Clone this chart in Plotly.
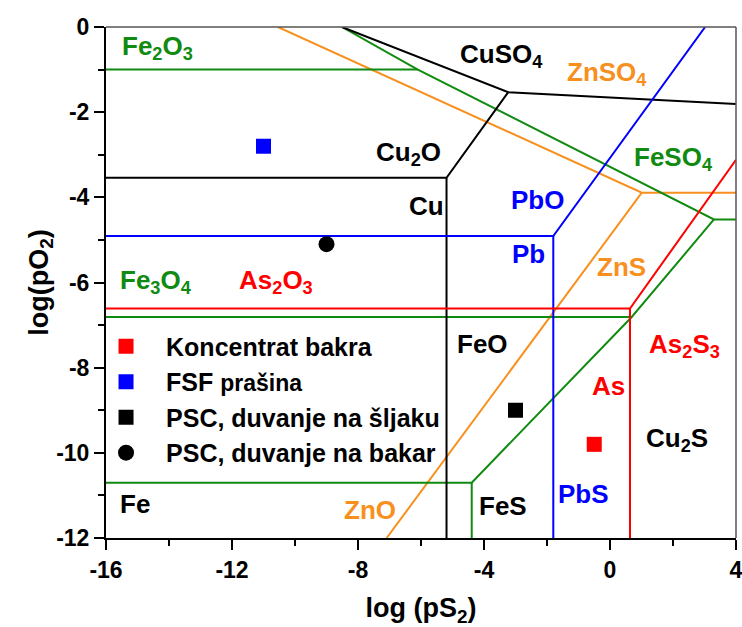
import plotly.graph_objects as go

# ---------------- data ----------------
# Boundary polylines: log(pS2) (x) and log(pO2) (y); None separates segments
cu_x = [-8.51, -3.23, 4.0, None, -3.23, -5.19, -16.0, None, -5.19, -5.19]
cu_y = [0.0, -1.53, -1.81, None, -1.53, -3.54, -3.54, None, -3.54, -12.0]

pb_x = [-16.0, -1.80, 3.02, None, -1.80, -1.80]
pb_y = [-4.91, -4.91, 0.0, None, -4.91, -12.0]

as_x = [-16.0, 0.635, 4.0, None, 0.635, 0.635]
as_y = [-6.61, -6.61, -3.12, None, -6.61, -12.0]

fe_x = [-16.0, -6.1, None, -8.51, -6.1, 3.30, 4.0, None,
        -16.0, 0.69, 3.30, None, 0.69, -4.39, -16.0, None, -4.39, -4.39]
fe_y = [-1.0, -1.0, None, 0.0, -1.0, -4.52, -4.52, None,
        -6.81, -6.81, -4.52, None, -6.81, -10.70, -10.70, None, -10.70, -12.0]

zn_x = [-10.54, 1.01, 4.0, None, 1.01, -7.09]
zn_y = [0.0, -3.89, -3.89, None, -3.89, -12.0]

# Sample points
sample_names = ["Koncentrat bakra",
                "FSF <span style='font-size:23px'>prašina</span>",
                "PSC, duvanje na šljaku",
                "PSC, duvanje na bakar"]
sample_x = [-0.5, -11.0, -3.0, -9.0]
sample_y = [-9.8, -2.8, -9.0, -5.1]
sample_colors = ["#ff0000", "#0000ff", "#000000", "#000000"]
sample_symbols = ["square", "square", "square", "circle"]

# Region labels
label_text = ["Fe<sub>2</sub>O<sub>3</sub>", "CuSO<sub>4</sub>", "ZnSO<sub>4</sub>",
              "Cu<sub>2</sub>O", "FeSO<sub>4</sub>", "Cu", "PbO", "Pb", "ZnS",
              "Fe<sub>3</sub>O<sub>4</sub>", "As<sub>2</sub>O<sub>3</sub>", "FeO",
              "As<sub>2</sub>S<sub>3</sub>", "As", "Cu<sub>2</sub>S", "PbS",
              "FeS", "ZnO", "Fe"]
label_x = [-14.38, -3.43, -0.10, -6.41, 2.0, -5.84, -2.29, -2.60, 0.35,
           -14.42, -10.6, -4.06, 2.38, -0.06, 2.13, -0.83, -3.40, -7.62, -15.08]
label_y = [-0.49, -0.66, -1.09, -2.97, -3.08, -4.21, -4.07, -5.33, -5.64,
           -5.97, -5.97, -7.45, -7.47, -8.44, -9.68, -10.97, -11.25, -11.34, -11.2]
label_group = ["fe", "cu", "zn", "cu", "fe", "cu", "pb", "pb", "zn",
               "fe", "as", "cu", "as", "as", "cu", "pb", "cu", "zn", "cu"]

x_ticks = [-16, -12, -8, -4, 0, 4]
x_ticktext = ["-16", "-12", "-8", "-4", "0", "4"]
y_ticks = [0, -2, -4, -6, -8, -10, -12]
y_ticktext = ["0", "-2", "-4", "-6", "-8", "-10", "-12"]

# ---------------- styling ----------------
COL = {"cu": "#000000", "pb": "#0000ff", "as": "#ff0000",
       "fe": "#108a10", "zn": "#f7901e"}
FONT = "Liberation Sans, Arial, sans-serif"

fig = go.Figure()

for key, xs, ys in [("zn", zn_x, zn_y), ("fe", fe_x, fe_y), ("cu", cu_x, cu_y),
                    ("pb", pb_x, pb_y), ("as", as_x, as_y)]:
    fig.add_trace(go.Scatter(x=xs, y=ys, mode="lines",
                             line=dict(color=COL[key], width=2),
                             showlegend=False, hoverinfo="skip"))

for i, name in enumerate(sample_names):
    fig.add_trace(go.Scatter(
        x=[sample_x[i]], y=[sample_y[i]], mode="markers", name=name,
        legendgroup=f"g{i}",
        marker=dict(color=sample_colors[i], symbol=sample_symbols[i],
                    size=15 if sample_symbols[i] == "square" else 16,
                    line=dict(width=0))))

for t, x, y, g in zip(label_text, label_x, label_y, label_group):
    fig.add_annotation(x=x, y=y, text=t, showarrow=False,
                       font=dict(family=FONT, size=26, color=COL[g], weight="bold"),
                       xanchor="center", yanchor="middle")

axis_common = dict(showgrid=False, zeroline=False, showline=True,
                   linecolor="black", linewidth=2, mirror=False,
                   ticks="outside", ticklen=10, tickwidth=2, tickcolor="black",
                   ticklabeloverflow="allow", automargin=False,
                   tickfont=dict(family=FONT, size=23, color="black", weight="bold"))

fig.update_xaxes(range=[-16, 4], tickvals=x_ticks, ticktext=x_ticktext,
                 minor=dict(dtick=2, ticks="outside", ticklen=6, tickwidth=2,
                            tickcolor="black", showgrid=False),
                 title=dict(text="log (pS<sub>2</sub>)", standoff=30,
                            font=dict(family=FONT, size=27, color="black", weight="bold")),
                 **axis_common)
fig.update_yaxes(range=[-12, 0], tickvals=y_ticks, ticktext=y_ticktext,
                 minor=dict(dtick=1, ticks="outside", ticklen=6, tickwidth=2,
                            tickcolor="black", showgrid=False),
                 title=dict(text="log(pO<sub>2</sub>)", standoff=0,
                            font=dict(family=FONT, size=27, color="black", weight="bold")),
                 **axis_common)

# top/right frame
fig.add_shape(type="line", xref="paper", yref="paper", x0=0, x1=1, y0=1, y1=1,
              line=dict(color="#555555", width=1.5))
fig.add_shape(type="line", xref="paper", yref="paper", x0=1, x1=1, y0=0, y1=1,
              line=dict(color="#555555", width=1.5))

fig.update_layout(
    width=742, height=627,
    margin=dict(l=106, r=6, t=27, b=89),
    plot_bgcolor="white", paper_bgcolor="white",
    font=dict(family=FONT, color="black"),
    legend=dict(x=-0.0317, y=0.42, xanchor="left", yanchor="top",
                bgcolor="rgba(0,0,0,0)", borderwidth=0, tracegroupgap=0,
                itemwidth=70,
                font=dict(family=FONT, size=25, color="black", weight="bold")),
)

fig.write_html("out.html")
